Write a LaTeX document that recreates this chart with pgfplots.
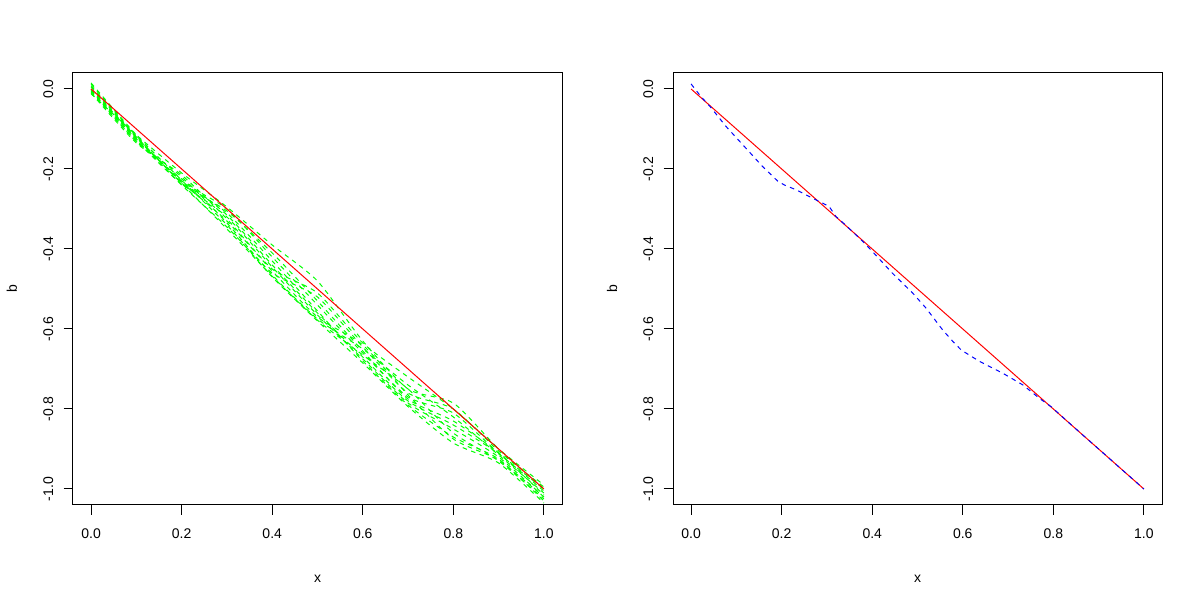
\documentclass[border=0pt]{standalone}
\usepackage{pgfplots}
\pgfplotsset{compat=1.18}
\usepackage{fontspec}
\setmainfont{Liberation Sans}
\definecolor{rred}{RGB}{255,0,0}
\definecolor{rgreen}{RGB}{0,255,0}
\definecolor{rblue}{RGB}{0,0,255}
\pgfplotsset{
  rbase/.style={
    scale only axis, width=489pt, height=432pt, anchor=south west,
    xmin=-0.04, xmax=1.04, ymin=-1.04, ymax=0.04,
    axis line style={line width=1pt, black},
    tick style={line width=1pt, black},
    tick align=outside, major tick length=9.5pt,
    xtick pos=bottom, ytick pos=left,
    xtick={0,0.2,0.4,0.6,0.8,1}, xticklabels={0.0,0.2,0.4,0.6,0.8,1.0},
    ytick={-1,-0.8,-0.6,-0.4,-0.2,0}, yticklabels={-1.0,-0.8,-0.6,-0.4,-0.2,0.0},
    tick label style={font=\fontsize{14}{16}\selectfont},
    xticklabel style={anchor=base, yshift=-23.5pt},
    yticklabel style={xshift=-10.5pt, rotate=90, anchor=base},
    label style={font=\fontsize{14}{16}\selectfont},
    xlabel={x}, ylabel={b},
    xlabel style={at={(axis description cs:0.5,0)}, anchor=base, yshift=-77pt},
    ylabel style={at={(axis description cs:0,0.5)}, anchor=base, yshift=56pt},
    clip=true,
  },
  grn/.style={rgreen, line width=1pt, dash pattern=on 4.5pt off 4.5pt, smooth, tension=0.4},
}
\begin{document}
\begin{tikzpicture}
\path[use as bounding box] (0,0) rectangle (1199pt,597pt);
\begin{axis}[rbase, at={(73pt,92pt)}]
\addplot[grn] coordinates {(0,0) (0.1,-0.120) (0.2,-0.230) (0.3,-0.300) (0.4,-0.420) (0.5,-0.540) (0.6,-0.660) (0.7,-0.770) (0.8,-0.810) (0.9,-0.910) (1,-1.000)};
\addplot[grn] coordinates {(0,0.012) (0.1,-0.118) (0.2,-0.235) (0.3,-0.320) (0.4,-0.445) (0.5,-0.565) (0.6,-0.675) (0.7,-0.785) (0.8,-0.850) (0.9,-0.920) (1,-1.020)};
\addplot[grn] coordinates {(0,-0.005) (0.1,-0.125) (0.2,-0.240) (0.3,-0.345) (0.4,-0.460) (0.5,-0.520) (0.6,-0.645) (0.7,-0.760) (0.8,-0.800) (0.9,-0.905) (1,-0.995)};
\addplot[grn] coordinates {(0,0.005) (0.1,-0.122) (0.2,-0.232) (0.3,-0.310) (0.4,-0.430) (0.5,-0.555) (0.6,-0.680) (0.7,-0.790) (0.8,-0.870) (0.9,-0.925) (1,-1.030)};
\addplot[grn] coordinates {(0,-0.008) (0.1,-0.130) (0.2,-0.220) (0.3,-0.335) (0.4,-0.465) (0.5,-0.575) (0.6,-0.650) (0.7,-0.740) (0.8,-0.820) (0.9,-0.915) (1,-1.010)};
\addplot[grn] coordinates {(0,0.015) (0.1,-0.115) (0.2,-0.228) (0.3,-0.340) (0.4,-0.470) (0.5,-0.580) (0.6,-0.685) (0.7,-0.794) (0.8,-0.885) (0.9,-0.935) (1,-1.035)};
\addplot[grn] coordinates {(0,-0.002) (0.1,-0.128) (0.2,-0.238) (0.3,-0.305) (0.4,-0.410) (0.5,-0.530) (0.6,-0.655) (0.7,-0.775) (0.8,-0.830) (0.9,-0.910) (1,-1.015)};
\addplot[grn] coordinates {(0,-0.010) (0.1,-0.135) (0.2,-0.215) (0.3,-0.325) (0.4,-0.450) (0.5,-0.510) (0.6,-0.635) (0.7,-0.720) (0.8,-0.800) (0.9,-0.900) (1,-0.990)};
\addplot[grn] coordinates {(0,0.008) (0.1,-0.120) (0.2,-0.236) (0.3,-0.350) (0.4,-0.468) (0.5,-0.578) (0.6,-0.665) (0.7,-0.750) (0.8,-0.860) (0.9,-0.930) (1,-1.025)};
\addplot[grn] coordinates {(0,-0.004) (0.1,-0.132) (0.2,-0.225) (0.3,-0.315) (0.4,-0.440) (0.5,-0.560) (0.6,-0.670) (0.7,-0.780) (0.8,-0.840) (0.9,-0.912) (1,-1.005)};
\addplot[grn] coordinates {(0,-0.012) (0.1,-0.115) (0.2,-0.210) (0.3,-0.295) (0.4,-0.390) (0.5,-0.480) (0.6,-0.630) (0.7,-0.750) (0.8,-0.785) (0.9,-0.900) (1,-1.000)};
\addplot[grn] coordinates {(0,0) (0.1,-0.124) (0.2,-0.233) (0.3,-0.330) (0.4,-0.455) (0.5,-0.570) (0.6,-0.640) (0.7,-0.765) (0.8,-0.875) (0.9,-0.928) (1,-1.020)};
\addplot[rred, line width=1pt] coordinates {(0,0) (1,-1)};
\end{axis}
\begin{axis}[rbase, at={(673pt,92pt)}]
\addplot[rred, line width=1pt] coordinates {(0,0) (1,-1)};
\addplot[rblue, line width=1pt, dash pattern=on 4.5pt off 4.5pt] coordinates {
(0,0.0125) (0.021,-0.018) (0.0435,-0.046) (0.077,-0.0935) (0.121,-0.148) (0.158,-0.194) (0.191,-0.230) (0.206,-0.240) (0.232,-0.252) (0.268,-0.273) (0.290,-0.285) (0.305,-0.294) (0.320,-0.319) (0.342,-0.341) (0.379,-0.381) (0.401,-0.407) (0.445,-0.461) (0.490,-0.511) (0.519,-0.548) (0.556,-0.603) (0.578,-0.631) (0.597,-0.653) (0.637,-0.681) (0.689,-0.711) (0.733,-0.740) (0.770,-0.774) (0.796,-0.795) (0.836,-0.836) (0.9,-0.9) (1,-1)};
\end{axis}
\end{tikzpicture}
\end{document}
